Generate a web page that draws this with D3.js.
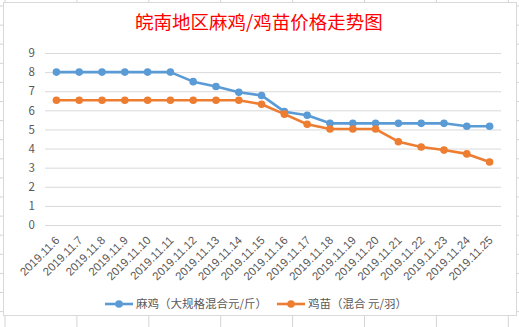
<!DOCTYPE html>
<html><head><meta charset="utf-8">
<script src="https://cdn.jsdelivr.net/npm/d3@7"></script>
<style>
html,body{margin:0;padding:0;background:#fff;}
svg{display:block;}
</style></head>
<body>
<svg id="c" width="519" height="327"></svg>
<script>
const title = "皖南地区麻鸡/鸡苗价格走势图";
const categories = ["2019.11.6","2019.11.7","2019.11.8","2019.11.9","2019.11.10","2019.11.11","2019.11.12","2019.11.13","2019.11.14","2019.11.15","2019.11.16","2019.11.17","2019.11.18","2019.11.19","2019.11.20","2019.11.21","2019.11.22","2019.11.23","2019.11.24","2019.11.25"];
const seriesNames = ["麻鸡（大规格混合元/斤）","鸡苗（混合 元/羽）"];
const majiValues = [8,8,8,8,8,8,7.5,7.25,6.95,6.78,5.93,5.74,5.32,5.32,5.32,5.32,5.32,5.32,5.17,5.17];
const jimiaoValues = [6.53,6.53,6.53,6.53,6.53,6.53,6.53,6.53,6.53,6.32,5.8,5.27,5.02,5.02,5.02,4.36,4.08,3.92,3.72,3.3];
const yTicks = [0,1,2,3,4,5,6,7,8,9];
const colors = ["#5B9BD5","#ED7D31"];

const svg = d3.select("#c");
const font = "'Noto Sans CJK SC','Noto Sans',sans-serif";

// spreadsheet backdrop grid
const bg = svg.append("g");
const cols = d3.range(5, 519, 71.9);
const rows = d3.range(6, 327, 19.1);
bg.selectAll("line.v").data(cols).join("line")
  .attr("x1", d=>d).attr("x2", d=>d).attr("y1",0).attr("y2",327)
  .attr("stroke","#d4d4d4").attr("stroke-width",1);
bg.selectAll("line.h").data(rows).join("line")
  .attr("y1", d=>d).attr("y2", d=>d).attr("x1",0).attr("x2",519)
  .attr("stroke","#d4d4d4").attr("stroke-width",1);

// chart box
svg.append("rect").attr("x",3.5).attr("y",2.5).attr("width",513).attr("height",313)
  .attr("fill","#fff").attr("stroke","#d9d9d9").attr("stroke-width",1);

const x = d3.scaleBand().domain(categories).range([45,501]);
const y = d3.scaleLinear().domain([0,9]).range([225,53]);
const cx = d => x(d) + x.bandwidth()/2;

// title
svg.append("text").attr("x",259).attr("y",28.5).attr("text-anchor","middle")
  .attr("font-family",font).attr("font-size",18.5).attr("fill","#ff0000").text(title);

// gridlines
const yAxis = d3.axisLeft(y).tickValues(yTicks).tickSize(-456).tickPadding(10).tickFormat(d3.format("d"));
const ga = svg.append("g").attr("transform","translate(45,0)").call(yAxis);
ga.select(".domain").remove();
ga.selectAll(".tick line").attr("stroke","#d9d9d9").attr("stroke-width",1);
ga.selectAll(".tick text").attr("font-family",font).attr("font-size",11.5).attr("fill","#595959");

// x axis labels
const xAxis = d3.axisBottom(x).tickSize(0).tickPadding(0);
const gx = svg.append("g").attr("transform","translate(0,225)").call(xAxis);
gx.select(".domain").remove();
gx.selectAll(".tick text")
  .attr("font-family","'Liberation Sans','DejaVu Sans',sans-serif").attr("font-size",11.5).attr("fill","#595959")
  .attr("text-anchor","end").attr("dy",0)
  .attr("transform","translate(4,16) rotate(-45)");

// lines
const series = [majiValues, jimiaoValues];
const line = d3.line().x((d,i)=>cx(categories[i])).y(d=>y(d));
series.forEach((vals,si)=>{
  svg.append("path").datum(vals).attr("d",line).attr("fill","none")
    .attr("stroke",colors[si]).attr("stroke-width",2.6).attr("stroke-linejoin","round").attr("stroke-linecap","round");
  svg.append("g").selectAll("circle").data(vals).join("circle")
    .attr("cx",(d,i)=>cx(categories[i])).attr("cy",d=>y(d)).attr("r",3.8).attr("fill",colors[si]);
});

// legend
const legX = [105, 277];
seriesNames.forEach((n,i)=>{
  const g = svg.append("g").attr("transform",`translate(${legX[i]},304)`);
  g.append("line").attr("x1",0).attr("x2",28).attr("y1",0).attr("y2",0).attr("stroke",colors[i]).attr("stroke-width",2.6);
  g.append("circle").attr("cx",14).attr("cy",0).attr("r",3.8).attr("fill",colors[i]);
  g.append("text").attr("x",31).attr("y",0).attr("dy","0.36em").attr("font-family",font).attr("font-size",11.5)
    .attr("fill","#595959").text(n);
});
</script>
</body></html>
